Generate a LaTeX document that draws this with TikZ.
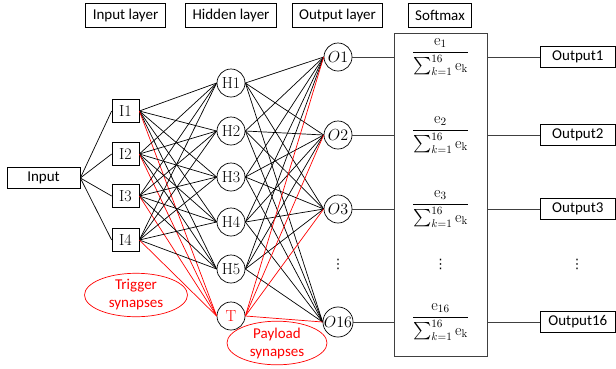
\RequirePackage{fix-cm}
\documentclass[tikz,border=0pt]{standalone}
\usepackage{amsmath}
\usepackage{fontspec}
\setsansfont{Carlito}
\newfontfamily\symfont{DejaVu Sans}
\usepackage{tikz}
\usetikzlibrary{positioning, calc, shapes.geometric}

\tikzset{
    hdr/.style={draw, font=\sffamily\fontsize{15}{18}\selectfont, inner xsep=7pt, inner ysep=0pt, minimum height=24pt},
    obox/.style={draw, font=\sffamily\fontsize{15}{18}\selectfont, minimum width=75pt, minimum height=21pt, inner sep=0pt},
    ibox/.style={draw, font=\fontsize{16}{18}\selectfont, minimum width=27pt, minimum height=23pt, inner sep=0pt},
    neuron/.style={circle, draw, font=\fontsize{16}{18}\selectfont, minimum size=28pt, inner sep=0pt},
    note/.style={ellipse, draw=red, text=red, align=center, font=\sffamily\fontsize{15}{18}\selectfont, inner sep=0pt},
    vdot/.style={inner sep=0pt, font=\symfont\fontsize{13}{15}\selectfont}
}

\begin{document}
\begin{tikzpicture}[x=1pt, y=-1pt, line width=0.7pt]
    \useasboundingbox (0,0) rectangle (616,368);

    % layer titles
    \node[hdr] (hin) at (125.5,15) {Input layer};
    \node[hdr] (hhid) at (231,15) {Hidden layer};
    \node[hdr] (hout) at (337.5,15) {Output layer};
    \node[hdr] (hsm) at (440,15) {Softmax};

    % network
    \node[draw, font=\sffamily\fontsize{15}{18}\selectfont, minimum width=73pt, minimum height=21pt, inner sep=0pt] (in) at (43.5,178) {Input};
    \foreach \i/\y in {1/111, 2/154, 3/196, 4/240}
        \node[ibox] (I\i) at (125.5,\y) {I\i};
    \foreach \j/\y in {1/83, 2/131, 3/177, 4/222, 5/269}
        \node[neuron] (H\j) at (231,\y) {H\j};
    \node[neuron, text=red] (T) at (231,316) {T};
    \foreach \k/\y in {1/57, 2/135, 3/209, 16/322}
        \node[neuron] (O\k) at (338,\y) {$O\k$};
    \node[vdot] (odots) at (338,264) {⋮};

    \foreach \i in {1,...,4} {
        \draw (in.east) -- (I\i.west);
        \foreach \j in {1,...,5}
            \draw (I\i.east) -- (H\j.west);
        \draw[red] (I\i.east) -- (T.west);
    }
    \foreach \j in {1,...,5}
        \foreach \k in {1,2,3,16}
            \draw (H\j.east) -- (O\k.west);
    \foreach \k in {1,2,3,16}
        \draw[red] (T.east) -- (O\k.west);

    % softmax
    \node[draw=black!75, minimum width=93pt, minimum height=323pt, inner sep=0pt] (sm) at (440.5,194.5) {};
    \foreach \k/\y in {1/57, 2/135, 3/209, 16/322} {
        \node[font=\fontsize{16}{18}\selectfont] (F\k) at (440.5,\y)
            {$\dfrac{\mathrm{e}_{\k}}{\textstyle\sum_{k=1}^{16}\mathrm{e}_{\mathrm{k}}}$};
        \node[obox, anchor=west] (Out\k) at (540,\y) {Output\k};
        \draw[black!75] (O\k.east) -- (O\k.east -| sm.west);
        \draw[black!75] (O\k.east -| sm.east) -- (Out\k.west);
    }
    \node[vdot] (fdots) at (440.5,264) {⋮};
    \node[vdot] (outdots) at (577,264) {⋮};

    % backdoor labels
    \node[note, minimum width=103pt, minimum height=41pt] (trig) at (136,295) {Trigger\\synapses};
    \node[note, minimum width=100pt, minimum height=42pt] (pay) at (277,343) {Payload\\synapses};
\end{tikzpicture}
\end{document}
